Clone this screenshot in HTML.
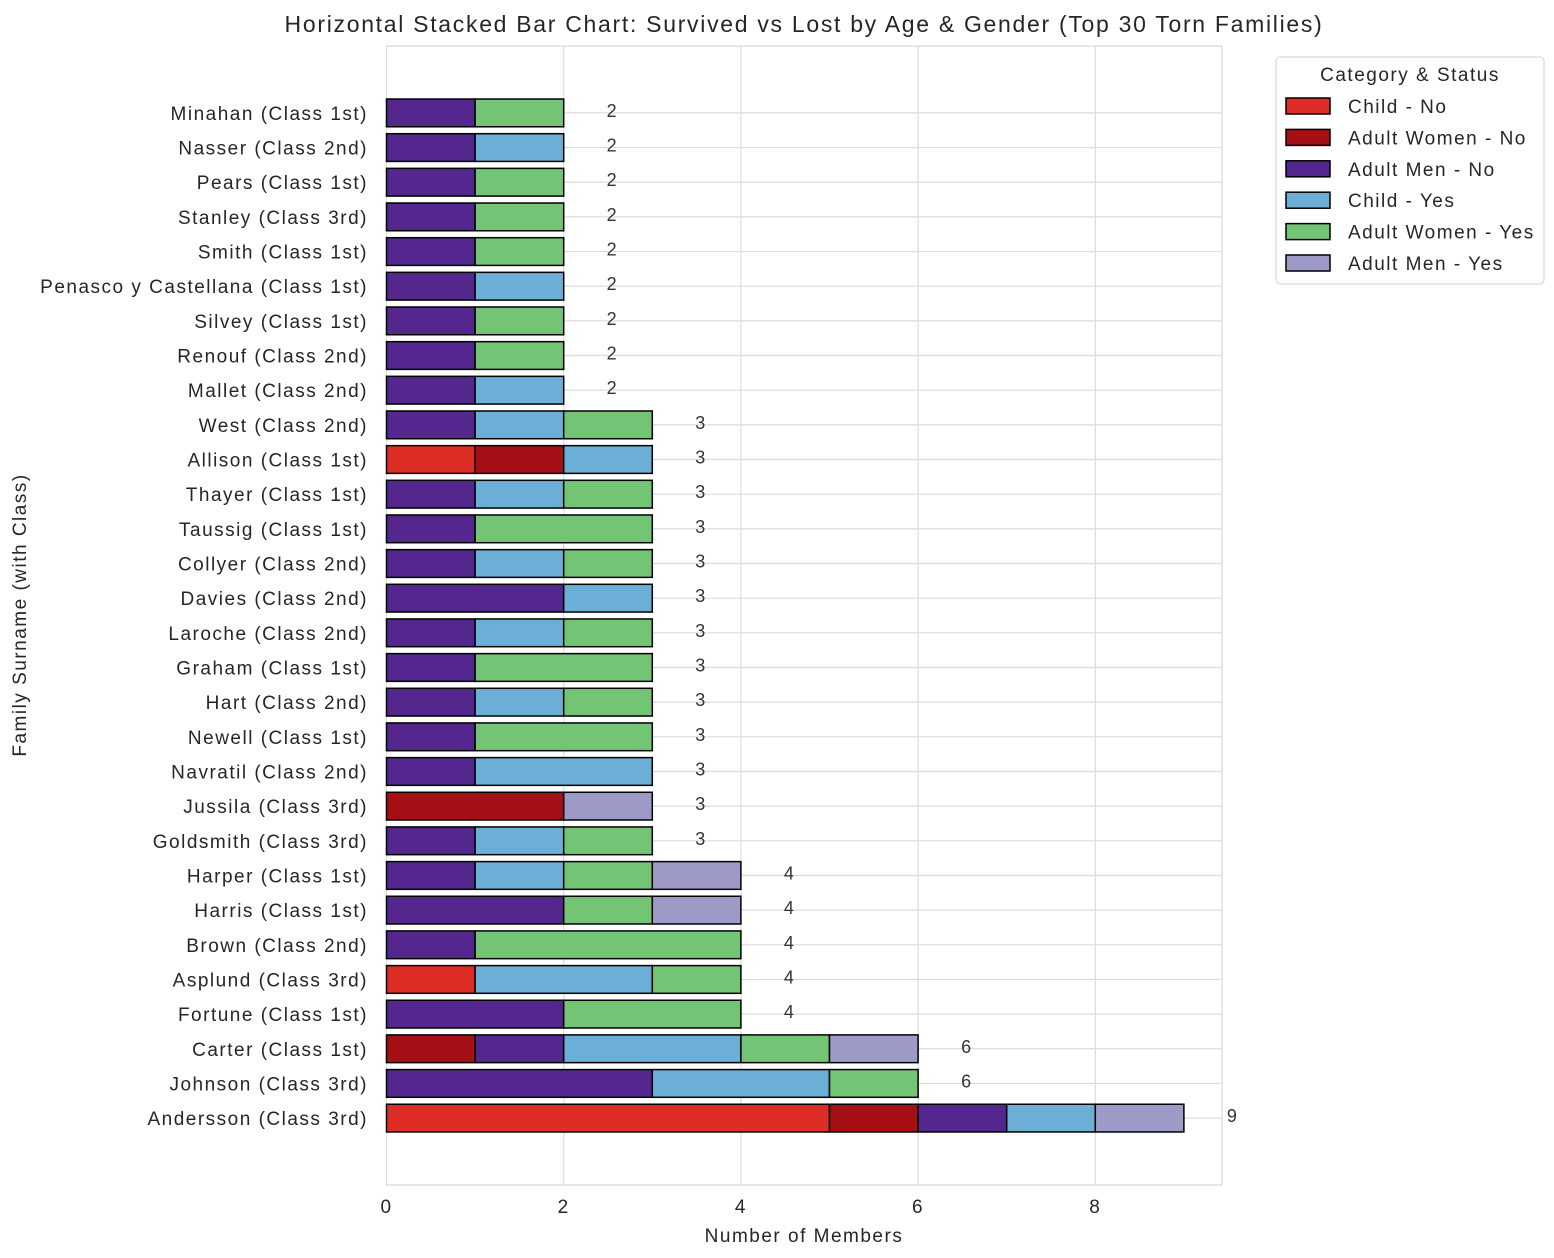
<!DOCTYPE html>
<html><head><meta charset="utf-8">
<style>
html,body{margin:0;padding:0;background:#fff;}
svg{display:block;font-family:"Liberation Sans","DejaVu Sans",sans-serif;}
text{letter-spacing:1.5px;}
</style></head>
<body>
<svg id="chart" width="1554" height="1258" viewBox="0 0 1554 1258" xmlns="http://www.w3.org/2000/svg">
<rect width="1554" height="1258" fill="#fff"/>
<text x="804" y="32" text-anchor="middle" font-size="23" fill="#262626" style="letter-spacing:1.7px">Horizontal Stacked Bar Chart: Survived vs Lost by Age &amp; Gender (Top 30 Torn Families)</text>
<g id="grid"></g>
<g id="bars"></g>
<g id="labels"></g>
<text x="804" y="1242" text-anchor="middle" font-size="19" fill="#262626">Number of Members</text>
<text transform="translate(26,615) rotate(-90)" text-anchor="middle" font-size="19" fill="#262626">Family Surname (with Class)</text>
<g id="legend"></g>
</svg>
<script>
const families = ["Minahan (Class 1st)","Nasser (Class 2nd)","Pears (Class 1st)","Stanley (Class 3rd)","Smith (Class 1st)","Penasco y Castellana (Class 1st)","Silvey (Class 1st)","Renouf (Class 2nd)","Mallet (Class 2nd)","West (Class 2nd)","Allison (Class 1st)","Thayer (Class 1st)","Taussig (Class 1st)","Collyer (Class 2nd)","Davies (Class 2nd)","Laroche (Class 2nd)","Graham (Class 1st)","Hart (Class 2nd)","Newell (Class 1st)","Navratil (Class 2nd)","Jussila (Class 3rd)","Goldsmith (Class 3rd)","Harper (Class 1st)","Harris (Class 1st)","Brown (Class 2nd)","Asplund (Class 3rd)","Fortune (Class 1st)","Carter (Class 1st)","Johnson (Class 3rd)","Andersson (Class 3rd)"];
const seriesNames = ["Child - No","Adult Women - No","Adult Men - No","Child - Yes","Adult Women - Yes","Adult Men - Yes"];
const seriesColors = ["#de2d26","#a50f15","#54278f","#6baed6","#74c476","#9e9ac8"];
const childNo      = [0,0,0,0,0,0,0,0,0,0,1,0,0,0,0,0,0,0,0,0,0,0,0,0,0,1,0,0,0,5];
const womenNo      = [0,0,0,0,0,0,0,0,0,0,1,0,0,0,0,0,0,0,0,0,2,0,0,0,0,0,0,1,0,1];
const menNo        = [1,1,1,1,1,1,1,1,1,1,0,1,1,1,2,1,1,1,1,1,0,1,1,2,1,0,2,1,3,1];
const childYes     = [0,1,0,0,0,1,0,0,1,1,1,1,0,1,1,1,0,1,0,2,0,1,1,0,0,2,0,2,2,1];
const womenYes     = [1,0,1,1,1,0,1,1,0,1,0,1,2,1,0,1,2,1,2,0,0,1,1,1,3,1,2,1,1,0];
const menYes       = [0,0,0,0,0,0,0,0,0,0,0,0,0,0,0,0,0,0,0,0,1,0,1,1,0,0,0,1,0,1];
const xTicks = [0,2,4,6,8];

const series=[childNo,womenNo,menNo,childYes,womenYes,menYes];
const NS="http://www.w3.org/2000/svg";
const L=386.5,R=1222,T=46,B=1185,XMAX=9.43;
const n=families.length;
const x=v=>L+v/XMAX*(R-L);
const rowH=(B-T)/(n-1+3.86);
const y=i=>T+(1.93+i)*rowH;
const bh=rowH*0.8;
function mk(tag,attrs,parent){const e=document.createElementNS(NS,tag);for(const k in attrs)e.setAttribute(k,attrs[k]);parent.appendChild(e);return e;}
const grid=document.getElementById('grid'),bars=document.getElementById('bars'),labels=document.getElementById('labels');
mk('rect',{x:L,y:T,width:R-L,height:B-T,fill:'#fff',stroke:'#d0d0d0','stroke-width':1},grid);
xTicks.forEach(t=>{
  const ln=mk('line',{x1:x(t),x2:x(t),y1:T,y2:B,stroke:'#dcdcdc','stroke-width':1.2},grid);
  
  
  const tx=mk('text',{x:x(t),y:B+28,'text-anchor':'middle','font-size':19,fill:'#262626'},labels);
  tx.textContent=t;
  
  
});
families.forEach((f,i)=>{
  const ln=mk('line',{x1:L,x2:R,y1:y(i),y2:y(i),stroke:'#dcdcdc','stroke-width':1.2},grid);
  
  
  const tx=mk('text',{x:368,y:y(i)+7,'text-anchor':'end','font-size':19,fill:'#262626'},labels);
  tx.textContent=f;
  
  
  let acc=0;
  series.forEach((s,k)=>{
    const v=s[i]; if(!v) return;
    const r=mk('rect',{x:x(acc),y:y(i)-bh/2,width:x(acc+v)-x(acc),height:bh,fill:seriesColors[k],stroke:'#000','stroke-width':1.5},bars);
    
    
    acc+=v;
  });
  const tl=mk('text',{x:x(acc+0.55),y:y(i)+4,'text-anchor':'middle','font-size':18,fill:'#333'},labels);
  tl.textContent=acc;
  
  
});
const lg=document.getElementById('legend');
mk('rect',{x:1276,y:57,width:268,height:227,rx:4,fill:'#fff',stroke:'#d0d0d0'},lg);
const lt=mk('text',{x:1410,y:81,'text-anchor':'middle','font-size':19,fill:'#262626'},lg);
lt.textContent='Category & Status';
seriesNames.forEach((nm,k)=>{
  const cy=106+k*31.4;
  const g=mk('g',{},lg);
  
  
  mk('rect',{x:1286,y:cy-8,width:44,height:16,fill:seriesColors[k],stroke:'#000','stroke-width':1.5},g);
  const t=mk('text',{x:1348,y:cy+7,'font-size':19,fill:'#262626'},g);
  t.textContent=nm;
});
</script>
</body></html>
